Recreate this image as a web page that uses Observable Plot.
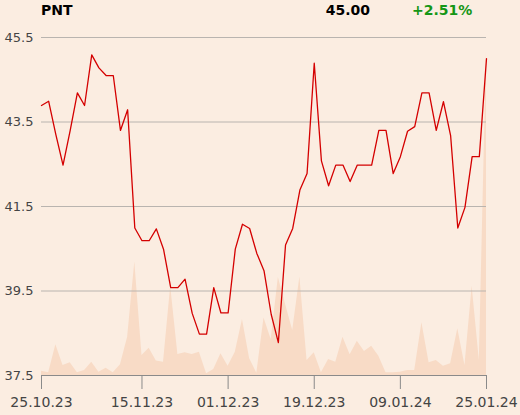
<!DOCTYPE html>
<html>
<head>
<meta charset="utf-8">
<script src="https://cdn.jsdelivr.net/npm/d3@7"></script>
<script src="https://cdn.jsdelivr.net/npm/@observablehq/plot@0.6"></script>
<style>
  html, body { margin: 0; padding: 0; background: #fbede1; }
  #wrap { position: relative; width: 520px; height: 415px; background: #fbede1; font-family: "DejaVu Sans", sans-serif; }
  #hdr { position: relative; height: 22px; }
  #hdr span { position: absolute; top: 2px; font-weight: bold; font-size: 14px; line-height: 16px; }
  #chart { position: absolute; top: 22px; left: 0; }
</style>
</head>
<body>
<div id="wrap">
  <div id="hdr">
    <span id="sym" style="left:41px;color:#000;"></span>
    <span id="last" style="right:150px;color:#000;"></span>
    <span id="chg" style="left:412px;color:#159615;"></span>
  </div>
  <div id="chart"></div>
</div>
<script>
const symbol = "PNT";
const lastPrice = "45.00";
const change = "+2.51%";

const prices = [43.89, 43.99, 43.20, 42.48, 43.30, 44.19, 43.89, 45.09, 44.78, 44.60,
  44.60, 43.30, 43.79, 40.99, 40.69, 40.69, 40.97, 40.49, 39.58, 39.58,
  39.78, 38.97, 38.48, 38.48, 39.58, 38.98, 38.98, 40.49, 41.08, 40.98,
  40.39, 39.98, 38.95, 38.28, 40.59, 40.98, 41.89, 42.28, 44.89, 42.58,
  41.99, 42.48, 42.48, 42.09, 42.48, 42.48, 42.48, 43.30, 43.30, 42.28,
  42.68, 43.28, 43.39, 44.19, 44.19, 43.30, 43.98, 43.18, 40.99, 41.48,
  42.68, 42.68, 45.00];

const volumes = [430, 270, 3070, 1000, 1270, 270, 500, 1330, 330, 730,
  270, 1070, 3830, 11330, 2000, 2730, 1450, 1330, 8900, 2100,
  2270, 2100, 2330, 170, 600, 2170, 930, 2330, 5600, 1670,
  230, 5730, 3600, 9770, 7100, 4500, 9830, 1500, 2270, 270,
  1600, 1330, 3830, 2070, 3430, 2400, 2930, 1930, 270, 270,
  330, 500, 500, 5270, 1270, 1500, 930, 1170, 4670, 1000,
  8900, 1500, 32300];

const tickIndex = [0, 14, 26, 38, 50, 62];
const tickLabels = ["25.10.23", "15.11.23", "01.12.23", "19.12.23", "09.01.24", "25.01.24"];
const yTicks = [37.5, 39.5, 41.5, 43.5, 45.5];

document.getElementById("sym").textContent = symbol;
document.getElementById("last").textContent = lastPrice;
document.getElementById("chg").textContent = change;

const yMin = 37.5, yMax = 45.5, volTop = 45.16;
const maxVol = d3.max(volumes);
const data = prices.map((p, i) => ({i, price: p, vol: volumes[i]}));

const chart = Plot.plot({
  width: 520,
  height: 393,
  marginTop: 15,
  marginBottom: 40,
  marginLeft: 41,
  marginRight: 34,
  style: {background: "transparent", fontFamily: "DejaVu Sans, sans-serif"},
  x: {type: "linear", domain: [0, prices.length - 1]},
  y: {domain: [yMin, yMax]},
  marks: [
    Plot.areaY(data, {x: "i", y1: yMin, y2: d => yMin + d.vol / maxVol * (volTop - yMin), fill: "#f8dbc6", curve: "linear"}),
    Plot.gridY(yTicks, {stroke: "#b9b4af", strokeOpacity: 1, strokeWidth: 1}),
    Plot.ruleY([yMin], {stroke: "#8a8a8a", strokeWidth: 1}),
    Plot.axisY({ticks: yTicks, tickSize: 0, tickPadding: 8, tickFormat: d => d.toFixed(1), fontSize: 13, fill: "#444", label: null}),
    Plot.axisX({ticks: tickIndex, tickFormat: i => tickLabels[tickIndex.indexOf(i)], tickSize: 14, tickPadding: 8, fontSize: 14, fill: "#444", stroke: "#8a8a8a", label: null}),
    Plot.lineY(data, {x: "i", y: "price", stroke: "#d40000", strokeWidth: 1.3})
  ]
});
document.getElementById("chart").appendChild(chart);
</script>
</body>
</html>
